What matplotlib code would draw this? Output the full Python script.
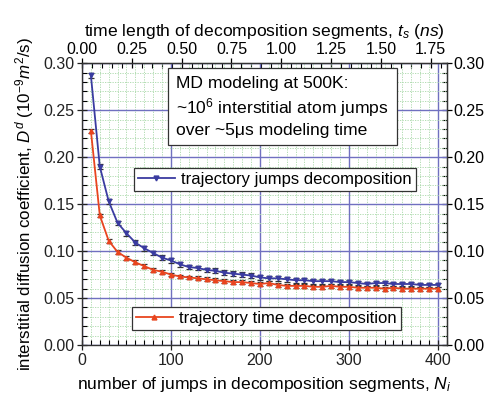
import matplotlib
matplotlib.use("Agg")
import matplotlib.pyplot as plt
from matplotlib.ticker import MultipleLocator, FixedLocator
from matplotlib.lines import Line2D

plt.rcParams['font.family'] = ['Liberation Sans', 'DejaVu Sans']
plt.rcParams['mathtext.fontset'] = 'custom'
plt.rcParams['mathtext.rm'] = 'Liberation Sans'
plt.rcParams['mathtext.it'] = 'Liberation Sans:italic'

N_jumps = [10, 20, 30, 40, 50, 60, 70, 80, 90, 100,
           110, 120, 130, 140, 150, 160, 170, 180, 190, 200,
           210, 220, 230, 240, 250, 260, 270, 280, 290, 300,
           310, 320, 330, 340, 350, 360, 370, 380, 390, 400]

D_jumps = [0.287, 0.190, 0.153, 0.130, 0.119, 0.109, 0.103, 0.098, 0.093, 0.090,
           0.086, 0.083, 0.082, 0.080, 0.079, 0.077, 0.076, 0.075, 0.074, 0.072,
           0.071, 0.071, 0.070, 0.069, 0.069, 0.068, 0.068, 0.068, 0.067, 0.067,
           0.066, 0.065, 0.066, 0.066, 0.065, 0.065, 0.065, 0.064, 0.064, 0.064]
err_jumps = [0.0025, 0.0025, 0.0025, 0.0025, 0.0025, 0.0025, 0.0025, 0.0025, 0.0025, 0.0025,
             0.0025, 0.0025, 0.0025, 0.0025, 0.0025, 0.0025, 0.0025, 0.0025, 0.0025, 0.0025,
             0.0025, 0.0025, 0.0025, 0.0025, 0.0025, 0.0025, 0.0025, 0.0025, 0.0025, 0.0025,
             0.0025, 0.0025, 0.0025, 0.0025, 0.0025, 0.0025, 0.0025, 0.0025, 0.0025, 0.0025]

D_time = [0.228, 0.138, 0.111, 0.099, 0.093, 0.088, 0.084, 0.080, 0.078, 0.075,
          0.073, 0.072, 0.071, 0.070, 0.069, 0.068, 0.067, 0.067, 0.066, 0.065,
          0.066, 0.064, 0.063, 0.063, 0.063, 0.062, 0.062, 0.063, 0.062, 0.062,
          0.061, 0.061, 0.061, 0.060, 0.061, 0.060, 0.060, 0.060, 0.060, 0.060]
err_time = [0.002, 0.002, 0.002, 0.002, 0.002, 0.002, 0.002, 0.002, 0.002, 0.002,
            0.002, 0.002, 0.002, 0.002, 0.002, 0.002, 0.002, 0.002, 0.002, 0.002,
            0.002, 0.002, 0.002, 0.002, 0.002, 0.002, 0.002, 0.002, 0.002, 0.002,
            0.002, 0.002, 0.002, 0.002, 0.002, 0.002, 0.002, 0.002, 0.002, 0.002]

top_ticks = [0.00, 0.25, 0.50, 0.75, 1.00, 1.25, 1.50, 1.75]

JUMPS_PER_NS = 224.0

blue = '#3a3ca0'
red = '#e8451f'
TICK_FS = 11.5
LABEL_FS = 12.6

fig = plt.figure(figsize=(4.91, 4.05), dpi=100)
ax = fig.add_axes([0.167, 0.148, 0.743, 0.696])

ax.set_xlim(0, 410)
ax.set_ylim(0, 0.30)

ax.xaxis.set_major_locator(MultipleLocator(100))
ax.xaxis.set_minor_locator(MultipleLocator(10))
ax.yaxis.set_major_locator(MultipleLocator(0.05))
ax.yaxis.set_minor_locator(MultipleLocator(0.01))
ax.yaxis.set_major_formatter(matplotlib.ticker.FormatStrFormatter('%.2f'))

ax.grid(which='minor', color='#a8d8a8', linestyle=(0, (1.5, 1.5)), linewidth=0.6)
ax.grid(which='major', color='#7070c0', linestyle='-', linewidth=1.0)
ax.set_axisbelow(True)

ax.errorbar(N_jumps, D_jumps, yerr=err_jumps, color=blue, lw=1.3, marker='v',
            markersize=3.2, ecolor='#333333', elinewidth=0.9, capsize=2.5, capthick=0.9, zorder=3)
ax.errorbar(N_jumps, D_time, yerr=err_time, color=red, lw=1.3, marker='^',
            markersize=3.2, ecolor='#333333', elinewidth=0.9, capsize=2.5, capthick=0.9, zorder=3)

ax.tick_params(which='major', direction='inout', length=7, width=0.9, labelsize=TICK_FS,
               colors='#222222', pad=2)
ax.tick_params(which='minor', direction='in', length=3.5, width=0.8)
for s in ax.spines.values():
    s.set_linewidth(1.0)
    s.set_color('#333333')

ax.set_xlabel(r'number of jumps in decomposition segments, $\mathit{N}_{\mathit{i}}$',
              fontsize=LABEL_FS, labelpad=5)
ax.set_ylabel(r'interstitial diffusion coefficient, $\mathit{D}^{\mathit{d}}$ (10$^{-9}$$\mathit{m}^{2}$/s)',
              fontsize=12.2, labelpad=5)

top = ax.secondary_xaxis('top', functions=(lambda n: n / JUMPS_PER_NS, lambda t: t * JUMPS_PER_NS))
top.xaxis.set_major_locator(FixedLocator(top_ticks))
top.xaxis.set_minor_locator(MultipleLocator(0.05))
top.xaxis.set_major_formatter(matplotlib.ticker.FormatStrFormatter('%.2f'))
top.tick_params(which='major', direction='inout', length=7, width=0.9, labelsize=TICK_FS, pad=1)
top.tick_params(which='minor', direction='in', length=3.5, width=0.8)
top.set_xlabel(r'time length of decomposition segments, $\mathit{t}_{\mathit{s}}$ ($\mathit{ns}$)',
               fontsize=LABEL_FS, labelpad=4)

right = ax.secondary_yaxis('right')
right.yaxis.set_major_locator(MultipleLocator(0.05))
right.yaxis.set_minor_locator(MultipleLocator(0.01))
right.yaxis.set_major_formatter(matplotlib.ticker.FormatStrFormatter('%.2f'))
right.tick_params(which='major', direction='inout', length=7, width=0.9, labelsize=TICK_FS, pad=1.5)
right.tick_params(which='minor', direction='in', length=3.5, width=0.8)

ax.text(0.258, 0.955, 'MD modeling at 500K:\n~10$^{6}$ interstitial atom jumps\nover ~5μs modeling time',
        transform=ax.transAxes, fontsize=12.6, va='top', ha='left', linespacing=1.3,
        bbox=dict(boxstyle='square,pad=0.45', fc='white', ec='#333333', lw=0.9), zorder=5)

h1 = Line2D([], [], color=blue, lw=1.3, marker='v', markersize=3.5)
h2 = Line2D([], [], color=red, lw=1.3, marker='^', markersize=3.5)
leg1 = ax.legend([h1], ['trajectory jumps decomposition'], loc='upper left',
                 bbox_to_anchor=(0.142, 0.628), fontsize=12.0, frameon=True, fancybox=False,
                 edgecolor='#333333', framealpha=1, borderpad=0.25, handlelength=2.2,
                 handletextpad=0.4, borderaxespad=0)
leg1.get_frame().set_linewidth(0.9)
ax.add_artist(leg1)
leg2 = ax.legend([h2], ['trajectory time decomposition'], loc='upper left',
                 bbox_to_anchor=(0.137, 0.135), fontsize=12.0, frameon=True, fancybox=False,
                 edgecolor='#333333', framealpha=1, borderpad=0.25, handlelength=2.2,
                 handletextpad=0.4, borderaxespad=0)
leg2.get_frame().set_linewidth(0.9)

fig.savefig('out.png', dpi=100)
